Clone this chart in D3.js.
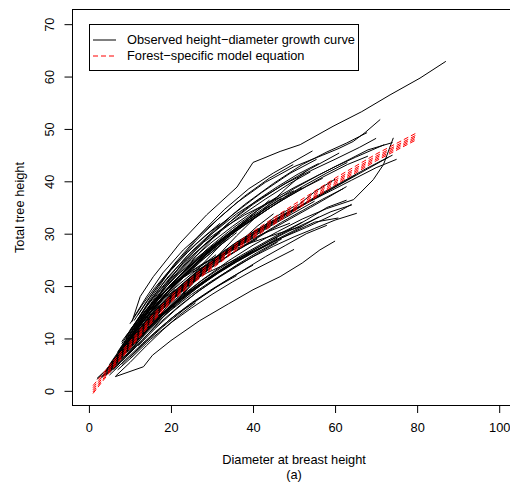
<!DOCTYPE html>
<html><head><meta charset="utf-8">
<script src="https://cdn.jsdelivr.net/npm/d3@7"></script>
<style>
body{margin:0;background:#fff;}
text{font-family:"Liberation Sans",Arial,sans-serif;}
</style></head>
<body><svg id="chart" width="510" height="482"></svg>
<script>
// ---------- data ----------
const xTicks = [0, 20, 40, 60, 80, 100];
const yTicks = [0, 10, 20, 30, 40, 50, 60, 70];
const xLabel = "Diameter at breast height";
const xSubLabel = "(a)";
const yLabel = "Total tree height";
const legendLabels = ["Observed height\u2212diameter growth curve", "Forest\u2212specific model equation"];

// observed curves: each is a list of [diameter, height]
const upperCurves = [
 [[10.5,13.2],[12.5,18],[15.7,21.8],[22.2,28.2],[28.7,33.6],[36.1,38.9],[40,43.6],[46.6,45.7],[51.5,47],[59.5,50.5],[66.5,53.3],[73.4,56.5],[80.7,59.7],[87,62.9]],
 [[11,14.1],[14,17.9],[18,22.5],[23,26.9],[29,31.1],[36,35.9],[43,39.8],[50,42.8],[57,45],[61,46.3],[64.4,47.6],[67.3,49.3],[71,51.8]],
 [[10,11.5],[14,16.2],[19,21.5],[25,26.6],[31,31],[38,35.6],[45,39.6],[52,43.2],[58,45.6],[62.8,47.3],[67.8,49.3]],
 [[12,14.5],[16,19.2],[21,24.4],[27,29.8],[33,34.6],[39,38.6],[45,41.6],[50,43.8],[54.5,45.8]],
 [[8,8.4],[12,13.2],[17,18.8],[23,24.5],[29,29.3],[35,33.6],[42,37.8],[49,41.5],[55.5,44.2]],
 [[11,12.4],[15,17.6],[20,23.2],[26,28.6],[32,33.2],[38,37.2],[44,40.6],[49.8,43.2]],
 [[9,10],[13,15],[18,20.4],[24,25.8],[30,30],[36,33.8],[42,36.8],[48,39.6],[54,42],[60,44.2],[66,46.5],[70,48.2]],
 [[7,7.2],[11,11.8],[16,17.2],[22,22.8],[28,27.8],[34,32],[40,35.6],[47,39.2],[54,42.4],[61,45.4]],
 [[10,12.8],[13,16.4],[16,19.6],[19,22.4],[22,25],[26,28],[30,30.6],[34,32.8]],
 [[11,13.4],[14,17],[17,20.2],[20,23],[24,26.4],[28,29.4],[32,32]]
];
const midUpperCurves = [
 [[6,5.6],[10,10.2],[15,15.6],[20,20.3],[26,24.8],[32,28.8],[38,32.4],[44,35.6],[50,38.6],[56,41.2],[62,43.6],[68,46],[74,47.4]],
 [[5,4.6],[9,9.2],[14,14.6],[19,19.4],[25,24],[31,28],[37,31.6],[43,34.8],[47,36.8]],
 [[8,8],[12,12.4],[17,17.6],[23,22.8],[29,27.2],[35,31],[41,34.4],[46,37]],
 [[4,3.4],[8,7.8],[13,13.2],[18,18],[24,22.8],[30,27],[36,30.6],[42,33.8],[48,37],[52,38.8]],
 [[7,7],[11,11.4],[16,16.6],[21,21],[27,25.4],[33,29.2],[39,32.6],[44,35.2]],
 [[9,9.2],[13,13.8],[18,18.6],[24,23.4],[30,27.6],[36,31.2],[40,33.6]],
 [[6,5.4],[10,9.8],[15,15],[20,19.6],[25,23.6],[30,27.2],[35,30.4],[38,32.4]],
 [[5,4.4],[9,8.8],[14,14],[19,18.6],[24,22.6],[29,26.2],[34,29.4],[39,32.2],[45,35.4],[51,38.2],[57,40.8],[63,43.2],[68,44.8]],
 [[10,10.8],[14,15.4],[19,20.4],[25,25.6],[31,29.8],[37,33.4],[43,36.6],[49,39.6],[54,41.8]],
 [[7,6.6],[11,11],[16,16.2],[21,20.6],[26,24.4],[31,27.8],[36,30.8],[41,33.4]],
 [[8,7.6],[12,12],[17,17],[22,21.2],[28,25.8],[34,29.8],[40,33.2],[46,36.2],[52,39],[58,41.6],[63,43.6]],
 [[6,5.2],[10,9.4],[14,13.6],[18,17.4],[23,21.6],[28,25.2],[33,28.4],[36,30.2]],
 [[11,11.6],[15,16.2],[20,21],[25,25],[30,28.4],[35,31.4],[40,34.2],[45,36.6],[50,38.8],[55,40.8],[60,42.8],[65,44.6],[72,47]],
 [[4,3.6],[7,6.8],[11,11],[15,15],[19,18.6],[23,21.8],[27,24.6],[31,27.2],[34,29]],
 [[9,8.6],[13,13],[18,17.8],[23,22],[28,25.6],[33,28.8],[38,31.8],[43,34.4],[48,36.8],[53,39],[57,40.6]],
 [[8,9],[11,12.6],[14,16],[17,19],[20,21.8],[24,25],[28,27.8],[32,30.2]],
 [[7,7.4],[10,11],[13,14.4],[16,17.4],[19,20],[22,22.4],[26,25.2],[30,27.6],[34,29.8]],
 [[5,5],[8,8.4],[11,11.8],[14,15],[17,17.8],[20,20.4],[24,23.4],[28,26.2]]
];
const middleCurves = [
 [[5,4],[9,8],[13,12],[18,16.4],[23,20],[28,23.2],[33,26.8],[38,28.2],[43,31],[48,33.4],[53,35.8],[58,38],[63,40.2],[68,42.4],[73,44.6]],
 [[3,2.4],[7,6],[11,10],[16,14.6],[21,18.6],[26,22],[31,25],[36,27.6],[40,29.6]],
 [[6,5],[10,9],[15,13.8],[20,17.8],[25,21.2],[30,24.2],[35,27],[40,29.4],[45,31.8],[50,34],[55,36.2]],
 [[8,7],[12,11],[17,15.6],[22,19.4],[27,22.8],[32,25.8],[37,28.4],[42,30.8],[46,32.6]],
 [[2,2.4],[5,4.6],[9,8.4],[13,12.2],[17,15.6],[21,18.4],[25,21],[29,23.4],[33,25.6]],
 [[7,6.2],[11,10.2],[16,14.8],[21,18.8],[26,22.2],[31,25.2],[36,28],[41,30.4],[46,32.8],[51,35],[56,37.2],[61,39.4],[65,41.2]],
 [[5,4.2],[9,8.2],[13,12],[17,15.4],[21,18.4],[25,21],[29,23.2]],
 [[9,8.4],[13,12.4],[18,16.8],[23,20.4],[28,23.6],[33,26.4],[38,29],[43,31.4],[48,33.8],[52,35.4]],
 [[6,5.4],[10,9.6],[14,13.4],[19,17.6],[24,21.2],[29,24.2],[34,26.8],[39,29.2],[44,31.6]],
 [[4,3],[8,7],[12,10.8],[17,15.2],[22,18.8],[27,22],[32,24.8],[37,27.4],[42,29.8],[47,32.2],[52,34.4],[57,36.6],[62,38.6]],
 [[10,9.4],[14,13.2],[19,17.4],[24,20.8],[29,23.8],[34,26.6],[38,28.6]],
 [[7,6.6],[11,10.6],[15,14.2],[20,18.4],[25,21.8],[30,24.8],[35,27.6],[40,30.2],[45,32.6],[49,34.4]],
 [[5,3.8],[8,6.8],[12,10.6],[16,14.2],[20,17.2],[24,20],[28,22.4]],
 [[8,7.4],[12,11.4],[16,15],[21,19.2],[26,22.6],[31,25.6],[36,28.4],[41,30.8],[47,33.4],[53,35.8],[59,38.2],[64,40.2],[70,42.6],[75,44.2]],
 [[6,4.8],[10,8.6],[14,12.4],[18,15.8],[22,18.8],[27,22],[32,24.8],[37,27.2],[41,29]],
 [[9,8.2],[14,12.6],[20,17.4],[26,21.8],[32,25.6],[38,28.8],[44,31.8],[50,34.6],[56,37.4],[62,40],[68,42.6],[74,45]],
 [[3,2.6],[6,5.4],[9,8.6],[12,11.6],[15,14.4],[18,17],[21,19.4]],
 [[4,3.8],[7,7],[10,10.2],[13,13.2],[16,16],[19,18.6],[22,21],[25,23.2]],
 [[5,4.8],[8,8],[11,11.2],[14,14],[17,16.6],[20,19],[23,21],[27,23.6],[31,26]],
 [[2,2.2],[4,3.8],[7,6.6],[10,9.4],[13,12.2],[16,14.8],[20,18]]
];
const crossingCurves = [
 [[8,5.6],[13,9.6],[18,14],[24,19.4],[30,24.6],[36,29.6],[42,34.2],[48,38.6],[53,42]],
 [[8,9.4],[12,13.6],[17,18],[22,21.4],[28,24.4],[34,26.6],[40,28.4],[46,30],[52,31.4]],
 [[6,4],[10,7.4],[15,12.2],[21,18],[27,23.6],[33,28.6],[39,33],[44,36.4]],
 [[10,11.6],[14,15.6],[19,19.4],[25,22.8],[31,25.6],[37,28],[43,30.2],[49,32]],
 [[12,11],[16,15.4],[21,20.8],[26,25.6],[31,29.8],[36,33.4],[41,36.4],[46,39],[51,41.4],[56,43.4]],
 [[9,10.4],[13,14.2],[18,17.6],[23,20.2],[29,22.6],[35,24.8],[41,27],[47,29.2],[53,31.2],[59,33.4],[64,35.6]],
 [[14,13.6],[18,19.4],[23,24.6],[28,28.4],[33,31.2],[38,33.6],[44,36],[50,38.2]],
 [[7,5],[11,8.6],[16,13.8],[21,18.6],[26,22],[31,24.6],[36,27.8],[41,31.4],[45,33.8]],
 [[5,3.6],[8,7.4],[12,12.6],[16,17],[20,20.2],[25,22.6],[30,24.4],[35,26.8],[40,29.8],[45,33],[50,35.2]],
 [[11,10.2],[15,13],[20,16.2],[25,20.2],[30,24.4],[35,27.8],[40,30.2],[45,32.2],[50,34.8],[55,38],[60,40.4]]
];
const lowerCurves = [
 [[6,4.6],[10,8.2],[14,11.6],[19,15.4],[24,18.6],[29,21.4],[34,24],[39,26.4],[44,28.6],[49,30.6],[54,32.4],[59,34.2],[64.1,35.5]],
 [[7,5.6],[11,9.2],[15,12.6],[20,16.2],[25,19.2],[30,21.8],[35,24.2],[40,26.4],[45,28.4],[50,30.4],[55,32.2],[60.8,33]],
 [[5,3.6],[9,7.2],[13,10.6],[17,13.8],[22,17.2],[27,20.2],[32,22.8],[37,25.2],[42,27.4],[46,29.2]],
 [[8,6.4],[12,9.8],[16,13],[21,16.6],[26,19.6],[31,22.2],[36,24.6],[41,26.8],[46,29],[51,31],[56,33.2]],
 [[4,2.8],[8,6.4],[12,10],[16,13.2],[20,16],[25,19.2],[30,22],[35,24.4],[40,26.6]],
 [[9,7.4],[13,10.8],[18,14.8],[23,18.2],[28,21],[33,23.6],[38,26],[43,28.2],[48,30.4],[53,32.6],[58,35],[62.8,36.4]],
 [[6,4.8],[10,8.2],[14,11.4],[18,14.4],[22,17],[27,20],[31,22.2]],
 [[10,9],[14,12.6],[19,16.6],[24,20],[29,23],[34,25.8],[39,28.2],[44,30.6],[49,32.8],[54,35],[58,36.8],[62.8,39]],
 [[5,3.4],[9,6.8],[13,10.2],[17,13.4],[21,16.2],[25,18.8],[29,21.2],[33,23.4],[36,25]],
 [[8,6.8],[12,10.2],[17,14.2],[22,17.8],[27,20.8],[32,23.4],[37,25.8],[42,28],[47,30.2],[52,32.2]],
 [[11,9],[15,12],[20,15.4],[25,18.4],[30,21],[35,23.4],[40,25.6],[45,27.6],[50,29.4],[55,31],[60,32.6],[65.3,33.9]],
 [[12,10.2],[17,14],[22,17.6],[28,21.4],[34,24.8],[40,27.8],[46,30.4],[52,32.8],[58,34.8],[64.5,36.5],[69.3,40.3],[71.8,43.2],[74.2,48.3]],
 [[6,4.4],[9,7.2],[12,10],[15,12.8],[18,15.2],[21,17.4],[24,19.4]],
 [[4,3],[7,5.8],[10,8.8],[13,11.6],[16,14.2],[19,16.6],[23,19.4],[27,22]],
 [[9,7.6],[12,10.4],[15,13],[18,15.6],[21,17.8],[24,19.8],[27,21.6]]
];
const lowCurves = [
 [[6.4,2.7],[13.3,4.6],[15.5,6.8],[20,9.6],[27,13.4],[34,16.6],[40,19.3],[46.6,21.8],[52,24.4],[56.3,26.9],[60,28.6]],
 [[7,4],[11,6.8],[15,9.8],[20,13],[25,15.8],[30,18.4],[35,20.8],[40,23],[45,25],[50,27]],
 [[8,5],[12,8],[16,11],[20,13.8],[25,16.8],[30,19.4],[35,21.8],[40,24]],
 [[5,3],[9,6],[13,9],[17,11.8],[21,14.4],[26,17.2],[31,19.8],[36,22]],
 [[10,6.4],[14,9.4],[18,12.2],[23,15.4],[28,18.2],[33,20.8],[38,23.2],[43,25.6],[48,27.8],[53,30],[58,31.6]],
 [[9,6.6],[13,9.8],[17,12.8],[22,16.2],[27,19.2],[32,21.8],[37,24.2],[42,26.6],[46,28.4]],
 [[12,8.6],[16,11.8],[21,15.4],[26,18.6],[31,21.4],[36,24],[41,26.4],[47,29]],
 [[6.5,2.8],[10,5.4],[14,8.6],[18,11.6],[22,14.4],[26,16.8]]
];

// forest-specific model equation (several parameterisations)
const modelDiameters = [1, 5, 10, 15, 20, 25, 30, 35, 40, 50, 60, 70, 80];
const modelHeights = [
 [1.0, 4.8, 9.4, 14.0, 18.2, 21.6, 24.6, 27.6, 30.4, 35.6, 40.6, 45.2, 49.3],
 [0.6, 4.4, 9.0, 13.6, 17.8, 21.2, 24.2, 27.2, 30.0, 35.2, 40.2, 44.8, 48.9],
 [0.2, 4.1, 8.7, 13.3, 17.5, 20.9, 23.9, 26.9, 29.7, 34.9, 39.9, 44.5, 48.6],
 [-0.2, 3.8, 8.4, 13.0, 17.2, 20.6, 23.6, 26.6, 29.4, 34.6, 39.6, 44.2, 48.3],
 [-0.5, 3.5, 8.1, 12.7, 16.9, 20.3, 23.3, 26.3, 29.1, 34.3, 39.3, 43.9, 48.0]
];

// ---------- drawing ----------
const svg = d3.select("#chart");
const pL = 72.5, pR = 515.6, pT = 9.5, pB = 405.5;
const x = d3.scaleLinear().domain([-4, 104]).range([pL, pR]);
const y = d3.scaleLinear().domain([-2.8, 72.8]).range([pB, pT]);
const fs = "12.8px";

svg.append("defs").append("clipPath").attr("id","plotclip")
  .append("rect").attr("x",pL).attr("y",pT).attr("width",pR-pL).attr("height",pB-pT);

const plot = svg.append("g").attr("clip-path","url(#plotclip)");
const line = d3.line().x(d => x(d[0])).y(d => y(d[1]));

const allCurves = [].concat(upperCurves, midUpperCurves, middleCurves, crossingCurves, lowerCurves, lowCurves);
plot.selectAll("path.obs").data(allCurves).enter().append("path")
  .attr("class","obs").attr("d", line)
  .attr("fill","none").attr("stroke","#000").attr("stroke-width",1);

plot.selectAll("path.model").data(modelHeights).enter().append("path")
  .attr("class","model")
  .attr("d", hs => line(hs.map((h,i) => [modelDiameters[i], h])))
  .attr("fill","none").attr("stroke","#ff0000").attr("stroke-width",1)
  .attr("stroke-dasharray","5,3");

// box
svg.append("rect").attr("x",pL).attr("y",pT).attr("width",pR-pL).attr("height",pB-pT)
  .attr("fill","none").attr("stroke","#000").attr("stroke-width",1);

// axes
const xAxis = svg.append("g").attr("transform",`translate(0,${pB})`)
  .call(d3.axisBottom(x).tickValues(xTicks).tickSize(7.5).tickSizeOuter(0).tickFormat(d3.format("d")));
xAxis.select(".domain").remove();
xAxis.selectAll("text").attr("y",22.5).attr("dy","0.35em").attr("font-size",fs)
  .attr("font-family","Liberation Sans, Arial, sans-serif").attr("fill","#000");

const yAxis = svg.append("g").attr("transform",`translate(${pL},0)`)
  .call(d3.axisLeft(y).tickValues(yTicks).tickSize(8).tickSizeOuter(0).tickFormat(d3.format("d")));
yAxis.select(".domain").remove();
yAxis.selectAll("text").attr("x",0).attr("y",-22.5).attr("dy","0.35em")
  .attr("transform","rotate(-90)").attr("text-anchor","middle").attr("font-size",fs)
  .attr("font-family","Liberation Sans, Arial, sans-serif").attr("fill","#000");

// titles
const cx = (pL + pR) / 2;
svg.append("text").attr("x",cx).attr("y",460).attr("dy","0.35em").attr("text-anchor","middle")
  .attr("font-size",fs).text(xLabel);
svg.append("text").attr("x",cx).attr("y",475).attr("dy","0.35em").attr("text-anchor","middle")
  .attr("font-size",fs).text(xSubLabel);
svg.append("text").attr("transform",`translate(20,${(pT+pB)/2}) rotate(-90)`)
  .attr("dy","0.35em").attr("text-anchor","middle").attr("font-size",fs).text(yLabel);

// legend
const lg = svg.append("g");
lg.append("rect").attr("x",89.5).attr("y",24.5).attr("width",269).attr("height",46)
  .attr("fill","#fff").attr("stroke","#000").attr("stroke-width",1);
const legendRows = [40, 56];
lg.append("line").attr("x1",93).attr("x2",116).attr("y1",legendRows[0]).attr("y2",legendRows[0])
  .attr("stroke","#000").attr("stroke-width",1);
lg.append("line").attr("x1",93).attr("x2",116).attr("y1",legendRows[1]).attr("y2",legendRows[1])
  .attr("stroke","#ff0000").attr("stroke-width",1).attr("stroke-dasharray","5,3");
legendLabels.forEach((t,i) => {
  lg.append("text").attr("x",127).attr("y",legendRows[i]).attr("dy","0.35em")
    .attr("font-size",fs).text(t);
});
</script></body></html>
